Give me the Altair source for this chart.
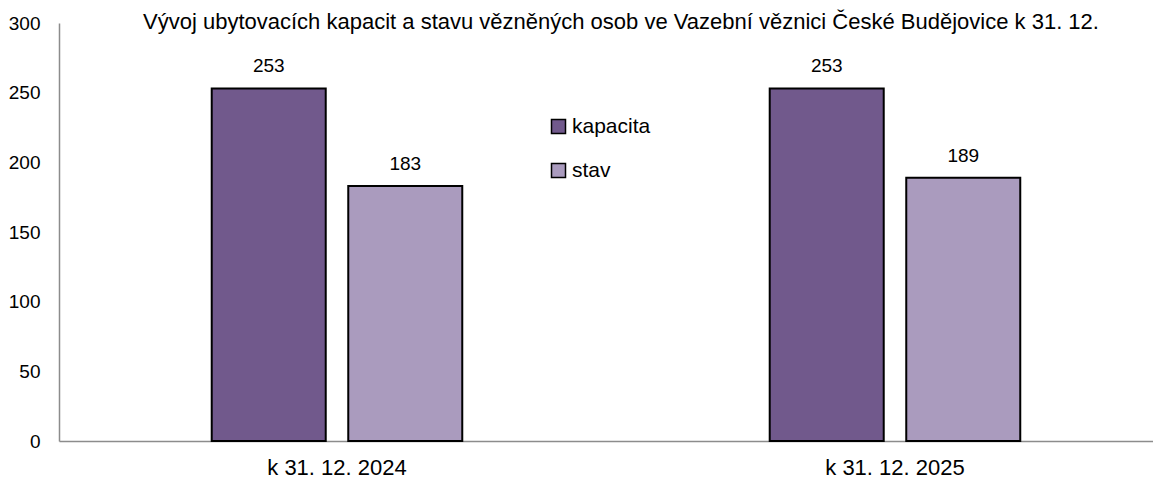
import altair as alt
import pandas as pd

categories = ["k 31. 12. 2024", "k 31. 12. 2025"]
series = ["kapacita", "stav"]
kapacita = [253, 253]
stav = [183, 189]
colors = ["#71598C", "#AA9BBE"]
title_text = "Vývoj ubytovacích kapacit a stavu vězněných osob ve Vazební věznici České Budějovice k 31. 12."

rows = []
for i, c in enumerate(categories):
    rows.append({"obdobi": c, "serie": series[0], "hodnota": kapacita[i]})
    rows.append({"obdobi": c, "serie": series[1], "hodnota": stav[i]})
df = pd.DataFrame(rows)

FONT = "Liberation Sans, Arial, sans-serif"

x = alt.X("obdobi:N", sort=categories, title=None,
          scale=alt.Scale(paddingInner=0.551, paddingOuter=0.2558, align=0.535),
          axis=alt.Axis(labelAngle=0, ticks=False, domainColor="#8c8c8c", domainWidth=1.5,
                        labelFont=FONT, labelFontSize=22, labelColor="#000000", labelPadding=16))
xo = alt.XOffset("serie:N", sort=series, scale=alt.Scale(paddingInner=0.165, paddingOuter=0))
y = alt.Y("hodnota:Q", title=None,
          scale=alt.Scale(domain=[0, 300], nice=False),
          axis=alt.Axis(values=[0, 50, 100, 150, 200, 250, 300], grid=False, ticks=False,
                        domainColor="#8c8c8c", domainWidth=1.5, labelFont=FONT,
                        labelFontSize=19, labelColor="#000000", labelPadding=19))

bars = alt.Chart(df).mark_bar(stroke="#000000", strokeWidth=2).encode(
    x=x, xOffset=xo, y=y,
    color=alt.Color("serie:N", sort=series, scale=alt.Scale(domain=series, range=colors),
                    legend=alt.Legend(title=None, orient="none", legendX=489, legendY=93,
                                      symbolType="square", symbolSize=196,
                                      symbolStrokeColor="#000000", symbolStrokeWidth=1.5,
                                      labelFont=FONT, labelFontSize=21, labelColor="#000000",
                                      rowPadding=22, labelOffset=3)),
)

labels = alt.Chart(df).mark_text(baseline="bottom", dy=-12, font=FONT, fontSize=19,
                                 color="#000000").encode(
    x=alt.X("obdobi:N", sort=categories), xOffset=alt.XOffset("serie:N", sort=series),
    y="hodnota:Q", text="hodnota:Q")

title_df = pd.DataFrame({"t": [title_text]})
title = alt.Chart(title_df).mark_text(align="center", baseline="alphabetic", font=FONT,
                                      fontSize=22, color="#000000").encode(
    text="t:N", x=alt.value(562), y=alt.value(6))

chart = alt.layer(bars, labels, title).properties(
    width=1094, height=418,
    autosize=alt.AutoSizeParams(type="none"),
    padding={"left": 51, "top": 15, "right": 0, "bottom": 44},
).configure_view(stroke=None)

chart.save("out.html", embed_options={"renderer": "svg", "actions": False})
